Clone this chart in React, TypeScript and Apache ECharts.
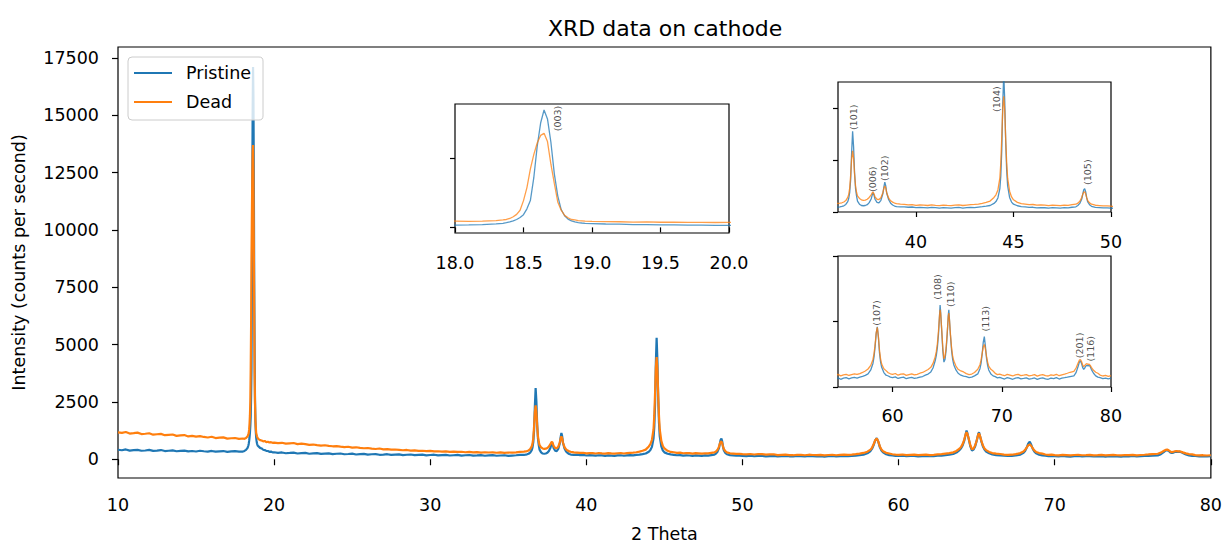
import React, { useEffect, useRef } from 'react';
import * as echarts from 'echarts';

// ---------- data (2θ in degrees, intensity in counts per second) ----------
const twoTheta = [
  10, 10.25, 10.5, 10.75, 11, 11.25, 11.5, 11.75, 12, 12.25, 12.5, 12.75, 13, 13.25, 13.5, 13.75,
  14, 14.25, 14.5, 14.75, 15, 15.25, 15.5, 15.75, 16, 16.25, 16.5, 16.75, 17, 17.25, 17.5, 17.75,
  18.0, 18.1, 18.2, 18.3,
  18.35, 18.375, 18.4, 18.425, 18.45, 18.475, 18.5, 18.525, 18.55, 18.575, 18.6, 18.625, 18.65,
  18.675, 18.7, 18.725, 18.75, 18.775, 18.8, 18.825, 18.85, 18.875, 18.9, 18.925, 18.95,
  19.0, 19.1, 19.2, 19.3, 19.4, 19.5, 19.6, 19.7, 19.8, 19.9,
  20, 20.25, 20.5, 20.75, 21, 21.25, 21.5, 21.75, 22, 22.25, 22.5, 22.75, 23, 23.25, 23.5, 23.75,
  24, 24.25, 24.5, 24.75, 25, 25.25, 25.5, 25.75, 26, 26.25, 26.5, 26.75, 27, 27.25, 27.5, 27.75,
  28, 28.25, 28.5, 28.75, 29, 29.25, 29.5, 29.75, 30, 30.25, 30.5, 30.75, 31, 31.25, 31.5, 31.75,
  32, 32.25, 32.5, 32.75, 33, 33.25, 33.5, 33.75, 34, 34.25, 34.5, 34.75, 35, 35.25, 35.5, 35.75,
  36.0, 36.1, 36.2, 36.3, 36.4, 36.5, 36.55, 36.6, 36.65, 36.7, 36.75, 36.8, 36.85, 36.9, 36.95,
  37.0, 37.1, 37.2, 37.3, 37.4, 37.5, 37.6, 37.7, 37.75, 37.8, 37.85, 37.9, 38.0, 38.1, 38.2, 38.3,
  38.35, 38.4, 38.45, 38.5, 38.6, 38.7, 38.8, 38.9, 39.0, 39.2,
  39.4, 39.6, 39.8, 40.0, 40.2, 40.4, 40.6, 40.8, 41.0, 41.2, 41.4, 41.6, 41.8, 42.0, 42.2, 42.4,
  42.6, 42.8, 43.0, 43.2, 43.4, 43.6,
  43.8, 44.0, 44.1, 44.2, 44.3, 44.35, 44.4, 44.45, 44.5, 44.55, 44.6, 44.65, 44.7, 44.8, 44.9, 45.0, 45.2, 45.4,
  45.6, 45.8, 46.0, 46.2, 46.4, 46.6, 46.8, 47.0, 47.2, 47.4, 47.6, 47.8, 48.0, 48.2,
  48.3, 48.4, 48.5, 48.55, 48.6, 48.65, 48.7, 48.75, 48.8, 48.9, 49.0, 49.2,
  49.4, 49.6, 49.8, 50, 50.25, 50.5, 50.75, 51, 51.25, 51.5, 51.75, 52, 52.25, 52.5, 52.75, 53,
  53.25, 53.5, 53.75, 54, 54.25, 54.5, 54.75, 55, 55.25, 55.5, 55.75, 56, 56.25, 56.5, 56.75, 57,
  57.25, 57.5, 57.75,
  58.0, 58.2, 58.3, 58.4, 58.5, 58.6, 58.7, 58.8, 58.9, 59.0, 59.2, 59.4,
  59.6, 59.8, 60, 60.25, 60.5, 60.75, 61, 61.25, 61.5, 61.75, 62, 62.25, 62.5, 62.75, 63, 63.25,
  63.5, 63.7, 63.9, 64.0, 64.1, 64.2, 64.3, 64.35, 64.4, 64.5, 64.6, 64.7, 64.8, 64.9, 65.0, 65.1,
  65.15, 65.2, 65.3, 65.4, 65.5, 65.6, 65.8, 66.0, 66.25, 66.5,
  66.75, 67.0, 67.25, 67.5,
  67.8, 68.0, 68.1, 68.2, 68.3, 68.4, 68.5, 68.6, 68.7, 68.8, 69.0, 69.2,
  69.4, 69.6, 69.8, 70, 70.25, 70.5, 70.75, 71, 71.25, 71.5, 71.75, 72, 72.25, 72.5, 72.75, 73,
  73.25, 73.5, 73.75, 74, 74.25, 74.5, 74.75, 75, 75.25, 75.5, 75.75, 76, 76.25,
  76.6, 76.8, 77.0, 77.1, 77.2, 77.3, 77.4, 77.5, 77.6, 77.7, 77.8, 77.9, 78.0, 78.1, 78.2, 78.4, 78.6, 78.8,
  79.0, 79.25, 79.5, 79.75, 80.0,
];

const pristine = [
  415, 392, 428, 378, 398, 412, 370, 382, 408, 365, 380, 402, 358, 372, 385, 348,
  366, 379, 342, 360, 338, 371, 350, 336, 362, 330, 344, 358, 322, 340, 352, 335,
  335, 365, 410, 500,
  600, 680, 800, 950, 1150, 1450, 1850, 2700, 3900, 7200, 11800, 15200, 17100,
  15800, 12400, 7800, 4600, 2600, 1700, 1200, 950, 800, 700, 640, 590,
  560, 495, 470, 415, 400, 365, 360, 325, 335, 300,
  305, 282, 296, 262, 275, 290, 250, 266, 278, 240, 255, 268, 232, 246, 258, 225,
  240, 252, 218, 230, 244, 208, 222, 235, 200, 218, 226, 195, 206, 220, 188, 204,
  214, 182, 196, 208, 178, 190, 202, 172, 186, 198, 168, 180, 192, 163, 176, 188,
  160, 174, 185, 158, 168, 180, 154, 166, 178, 152, 164, 175, 150, 162, 174, 188,
  190, 200, 215, 240, 290, 400, 520, 750, 1250, 2300, 3100, 2500, 1500, 900, 620,
  420, 300, 250, 240, 250, 280, 360, 500, 640, 740, 640, 490, 370, 350, 450, 700,
  950, 1150, 1000, 720, 470, 340, 270, 230, 205, 195,
  200, 182, 192, 165, 178, 170, 155, 176, 166, 150, 172, 160, 148, 168, 175, 152,
  166, 178, 172, 190, 205, 225,
  250, 330, 400, 540, 900, 1400, 2400, 4200, 5300, 4300, 2700, 1600, 1000, 560, 380, 300, 240, 210,
  195, 175, 182, 158, 170, 164, 150, 168, 160, 148, 166, 162, 182, 200,
  250, 330, 500, 680, 850, 900, 780, 560, 400, 280, 220, 180,
  172, 155, 162, 148, 140, 156, 132, 145, 152, 128, 140, 150, 124, 138, 146, 130,
  122, 142, 135, 120, 144, 132, 126, 140, 118, 134, 142, 125, 138, 148, 136, 150,
  162, 178, 200,
  260, 360, 460, 620, 820, 920, 760, 520, 380, 300, 220, 180,
  168, 150, 142, 155, 130, 144, 150, 126, 138, 148, 132, 140, 152, 160, 180, 198,
  230, 290, 400, 480, 600, 800, 1100, 1250, 1150, 850, 550, 380, 420, 560, 800, 1100,
  1180, 1050, 780, 560, 420, 340, 260, 210, 180, 165,
  158, 142, 150, 170,
  200, 280, 360, 500, 680, 770, 620, 440, 330, 260, 200, 170,
  158, 140, 148, 135, 122, 142, 130, 118, 136, 144, 125, 132, 140, 120, 128, 138,
  116, 130, 140, 124, 118, 136, 128, 144, 122, 135, 142, 150, 160,
  170, 220, 320, 380, 400, 360, 300, 270, 290, 320, 330, 320, 330, 310, 270, 210, 170, 150,
  142, 128, 136, 124, 135,
];

const dead = [
  1172, 1150, 1188, 1120, 1138, 1160, 1098, 1112, 1135, 1070, 1090, 1108, 1050, 1066, 1080, 1020,
  1042, 1055, 995, 1018, 985, 1010, 972, 950, 980, 925, 940, 955, 900, 915, 928, 890,
  905, 890, 925, 1000,
  1080, 1150, 1300, 1550, 1900, 2500, 3900, 5800, 8500, 10600, 12300, 13400, 13700,
  12500, 9200, 6400, 3700, 2500, 1750, 1400, 1150, 1080, 1000, 960, 920,
  880, 835, 820, 780, 795, 750, 765, 730, 745, 715,
  728, 705, 718, 680, 695, 708, 660, 678, 662, 628, 642, 618, 595, 612, 585, 566,
  575, 548, 530, 545, 508, 522, 495, 480, 492, 462, 448, 468, 430, 442, 418, 425,
  410, 392, 405, 376, 388, 362, 372, 352, 366, 344, 350, 332, 345, 322, 335, 318,
  328, 305, 318, 298, 312, 292, 306, 295, 304, 285, 298, 280, 295, 286, 302, 322,
  330, 340, 355, 385, 440, 560, 680, 920, 1420, 2050, 2350, 2050, 1450, 1000, 760,
  620, 520, 470, 450, 460, 490, 560, 660, 730, 770, 690, 580, 490, 480, 550, 740,
  900, 1000, 920, 730, 530, 430, 380, 345, 325, 300,
  292, 275, 282, 258, 270, 264, 250, 272, 258, 245, 268, 255, 244, 262, 272, 250,
  268, 282, 290, 305, 335, 370,
  420, 560, 660, 850, 1300, 1900, 2900, 4000, 4450, 3900, 2800, 1900, 1300, 800, 580, 470, 370, 320,
  305, 282, 288, 262, 272, 264, 248, 268, 258, 242, 262, 258, 280, 300,
  340, 410, 560, 680, 760, 780, 700, 560, 450, 350, 300, 260,
  248, 232, 238, 222, 215, 230, 208, 220, 226, 202, 214, 218, 178, 190, 200, 184,
  176, 195, 188, 174, 198, 185, 178, 192, 170, 186, 194, 176, 190, 200, 192, 205,
  222, 245, 275,
  330, 420, 510, 650, 830, 910, 770, 560, 430, 350, 280, 250,
  218, 202, 192, 206, 180, 195, 202, 178, 190, 200, 184, 194, 210, 222, 245, 268,
  300, 360, 460, 540, 660, 850, 1100, 1180, 1120, 870, 600, 430, 470, 600, 820, 1080,
  1130, 1040, 800, 600, 470, 400, 320, 270, 245, 230,
  205, 190, 198, 222,
  270, 340, 410, 510, 610, 650, 580, 470, 380, 320, 270, 245,
  208, 190, 198, 184, 172, 192, 180, 168, 186, 194, 175, 182, 190, 170, 178, 188,
  166, 180, 190, 174, 168, 186, 178, 194, 172, 185, 196, 210, 225,
  240, 290, 370, 410, 420, 390, 340, 310, 330, 350, 355, 345, 350, 330, 300, 255, 225, 210,
  182, 168, 176, 164, 175,
];

const seriesNames = ['Pristine', 'Dead'];
const mainYTicks = [0, 2500, 5000, 7500, 10000, 12500, 15000, 17500];

// peak annotations: [label, 2θ, intensity at label foot]
const peaks003 = [['(003)', 18.745, 14000]];
const peaksMid = [
  ['(101)', 36.77, 3150],
  ['(006)', 37.79, 770],
  ['(102)', 38.41, 1190],
  ['(104)', 44.15, 3850],
  ['(105)', 48.77, 1040],
];
const peaksHigh = [
  ['(107)', 58.57, 934],
  ['(108)', 64.07, 1332],
  ['(110)', 65.33, 1220],
  ['(113)', 68.54, 847],
  ['(201)', 77.09, 440],
  ['(116)', 78.11, 388],
];

// ---------- styling ----------
const FONT = 'DejaVu Sans';
const BLUE = '#1f77b4';
const ORANGE = '#ff7f0e';

function zip(ys: number[]) {
  const n = Math.min(twoTheta.length, ys.length);
  const out: number[][] = [];
  for (let i = 0; i < n; i++) out.push([twoTheta[i], ys[i]]);
  return out;
}

function tickLabel(show: boolean, margin: number, customValues?: number[], fmt?: (v: number) => string) {
  const o: any = {
    show,
    color: '#000',
    fontSize: 17.5,
    fontFamily: FONT,
    margin,
    formatter: fmt || ((v: number) => String(v)),
  };
  if (customValues) o.customValues = customValues;
  return o;
}

function tick(len: number, customValues?: number[]) {
  const o: any = { show: true, length: len, lineStyle: { color: '#000', width: 1.2 } };
  if (customValues) o.customValues = customValues;
  return o;
}

function lineSeries(name: string, ys: number[], color: string, idx: number, width: number, opacity: number) {
  return {
    type: 'line',
    name,
    xAxisIndex: idx,
    yAxisIndex: idx,
    data: zip(ys),
    showSymbol: false,
    symbol: 'none',
    clip: true,
    silent: true,
    z: 2,
    lineStyle: { color, width, opacity },
    itemStyle: { color },
  };
}

function labelSeries(idx: number, peaks: any[]) {
  return {
    type: 'scatter',
    name: 'labels' + idx,
    xAxisIndex: idx,
    yAxisIndex: idx,
    symbolSize: 0,
    silent: true,
    z: 5,
    data: peaks.map((p) => ({ name: p[0], value: [p[1], p[2]] })),
    label: {
      show: true,
      position: [0, 0],
      rotate: 90,
      align: 'left',
      verticalAlign: 'middle',
      formatter: (p: any) => p.name,
      fontSize: 9.5,
      fontFamily: FONT,
      color: '#222',
    },
  };
}

const gridBox = { show: true, borderColor: '#000', borderWidth: 1.2, backgroundColor: '#fff' };

const option: any = {
  animation: false,
  backgroundColor: '#fff',
  title: {
    text: 'XRD data on cathode',
    left: 543,
    top: 12,
    textStyle: { fontFamily: FONT, fontSize: 22, fontWeight: 'normal', color: '#000' },
  },
  legend: {
    data: seriesNames,
    orient: 'vertical',
    left: 128,
    top: 57,
    padding: [7, 12, 9, 6],
    itemGap: 11,
    itemWidth: 38,
    itemHeight: 2,
    icon: 'rect',
    backgroundColor: 'rgba(255,255,255,0.8)',
    borderColor: '#cccccc',
    borderWidth: 1,
    borderRadius: 4,
    textStyle: { fontFamily: FONT, fontSize: 17.5, color: '#000', padding: [0, 0, 0, 9] },
    z: 10,
  },
  grid: [
    { left: 118, top: 47, width: 1093, height: 437, ...gridBox, backgroundColor: 'transparent' },
    { left: 455, top: 104, width: 274, height: 129, ...gridBox },
    { left: 838, top: 82, width: 273, height: 130, ...gridBox },
    { left: 838, top: 256, width: 273, height: 131, ...gridBox },
  ],
  xAxis: [
    {
      type: 'value', gridIndex: 0, min: 10, max: 80, interval: 10,
      axisLine: { show: false }, splitLine: { show: false },
      axisTick: tick(6), axisLabel: tickLabel(true, 18),
      name: '2 Theta', nameLocation: 'middle', nameGap: 47,
      nameTextStyle: { fontFamily: FONT, fontSize: 17.5, color: '#000' },
    },
    {
      type: 'value', gridIndex: 1, min: 18, max: 20, interval: 0.5,
      axisLine: { show: false }, splitLine: { show: false },
      axisTick: tick(5), axisLabel: tickLabel(true, 21, undefined, (v: number) => v.toFixed(1)),
    },
    {
      type: 'value', gridIndex: 2, min: 36, max: 50,
      axisLine: { show: false }, splitLine: { show: false },
      axisTick: tick(5, [40, 45, 50]), axisLabel: tickLabel(true, 21, [40, 45, 50]),
    },
    {
      type: 'value', gridIndex: 3, min: 55, max: 80,
      axisLine: { show: false }, splitLine: { show: false },
      axisTick: tick(5, [60, 70, 80]), axisLabel: tickLabel(true, 20, [60, 70, 80]),
    },
  ],
  yAxis: [
    {
      type: 'value', gridIndex: 0, min: -817, max: 17973,
      axisLine: { show: false }, splitLine: { show: false },
      axisTick: tick(6, mainYTicks), axisLabel: tickLabel(true, 19, mainYTicks),
      name: 'Intensity (counts per second)', nameLocation: 'middle', nameGap: 90, nameRotate: 90,
      nameTextStyle: { fontFamily: FONT, fontSize: 17.5, color: '#000' },
    },
    {
      type: 'value', gridIndex: 1, min: -817, max: 17973,
      axisLine: { show: false }, splitLine: { show: false },
      axisTick: tick(5, [0, 10000]), axisLabel: { show: false },
    },
    {
      type: 'value', gridIndex: 2, min: 0, max: 5000,
      axisLine: { show: false }, splitLine: { show: false },
      axisTick: tick(5, [0, 2000, 4000]), axisLabel: { show: false },
    },
    {
      type: 'value', gridIndex: 3, min: 0, max: 2000,
      axisLine: { show: false }, splitLine: { show: false },
      axisTick: tick(5, [0, 1000, 2000]), axisLabel: { show: false },
    },
  ],
  series: [
    lineSeries('Pristine', pristine, BLUE, 0, 2.2, 1),
    lineSeries('Dead', dead, ORANGE, 0, 2.2, 1),
    lineSeries('Pristine', pristine, BLUE, 1, 1.3, 0.75),
    lineSeries('Dead', dead, ORANGE, 1, 1.3, 0.75),
    lineSeries('Pristine', pristine, BLUE, 2, 1.3, 0.8),
    lineSeries('Dead', dead, ORANGE, 2, 1.3, 0.8),
    lineSeries('Pristine', pristine, BLUE, 3, 1.3, 0.8),
    lineSeries('Dead', dead, ORANGE, 3, 1.3, 0.8),
    labelSeries(1, peaks003),
    labelSeries(2, peaksMid),
    labelSeries(3, peaksHigh),
  ],
};

export default function App() {
  const ref = useRef<HTMLDivElement>(null);
  useEffect(() => {
    if (!ref.current) return;
    const chart = echarts.init(ref.current, null, { renderer: 'svg' });
    chart.setOption(option);
    return () => chart.dispose();
  }, []);
  return (
    <div
      ref={ref}
      style={{ position: 'fixed', left: 0, top: 0, width: 1225, height: 548, background: '#fff' }}
    />
  );
}
